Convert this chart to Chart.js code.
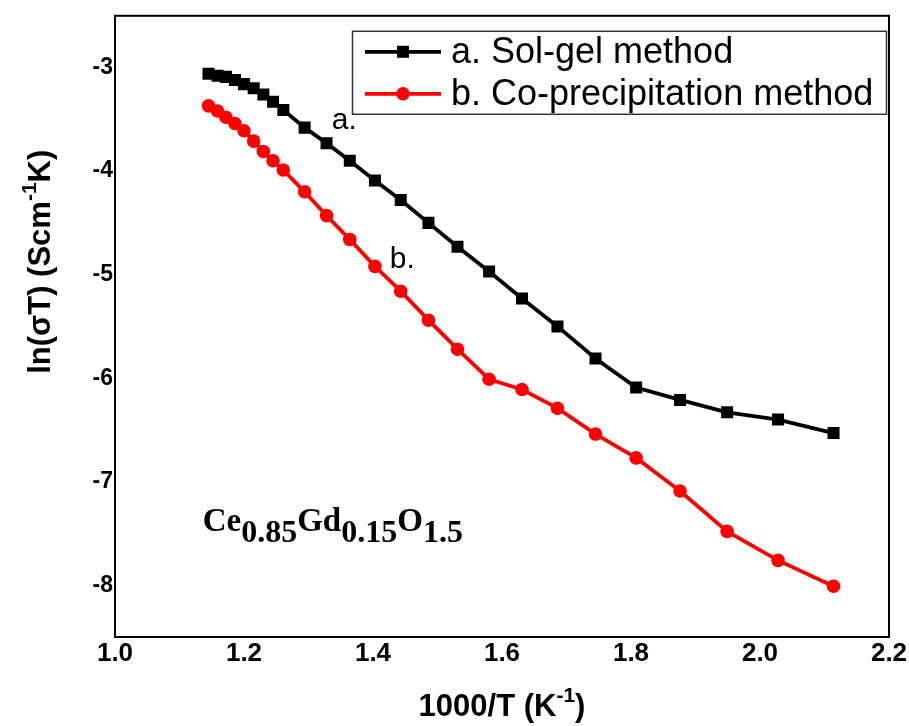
<!DOCTYPE html>
<html><head><meta charset="utf-8">
<script src="https://cdn.jsdelivr.net/npm/chart.js@4/dist/chart.umd.min.js"></script>
<style>html,body{margin:0;padding:0;background:#fff;}#wrap{width:909px;height:726px;}</style>
</head><body><div id="wrap"><canvas id="c" width="909" height="726"></canvas></div>
<script>
// 1000/T (K^-1)
const invT = [1.145, 1.159, 1.172, 1.186, 1.200, 1.215, 1.230, 1.245, 1.261, 1.294, 1.328, 1.364, 1.403, 1.443, 1.486, 1.531, 1.580, 1.631, 1.686, 1.745, 1.808, 1.876, 1.949, 2.028, 2.114];
// ln(sigma T), a. Sol-gel method
const solGel = [-3.06, -3.08, -3.09, -3.12, -3.16, -3.20, -3.26, -3.33, -3.41, -3.58, -3.73, -3.90, -4.09, -4.28, -4.50, -4.73, -4.97, -5.23, -5.50, -5.81, -6.09, -6.21, -6.33, -6.40, -6.53];
// ln(sigma T), b. Co-precipitation method
const coPrecip = [-3.37, -3.42, -3.48, -3.54, -3.61, -3.71, -3.81, -3.90, -3.99, -4.20, -4.43, -4.66, -4.92, -5.16, -5.44, -5.72, -6.01, -6.11, -6.29, -6.54, -6.77, -7.09, -7.48, -7.76, -8.01];
const seriesNames = ['a. Sol-gel method', 'b. Co-precipitation method'];
const xTicks = [1.0, 1.2, 1.4, 1.6, 1.8, 2.0, 2.2];
const yTicks = [-8, -7, -6, -5, -4, -3];

const SANS = '"Liberation Sans", Arial, Helvetica, sans-serif';
const NARROW = '"Liberation Sans Narrow", "Arial Narrow", "Liberation Sans", Arial, sans-serif';
const SERIF = '"Liberation Serif", "Times New Roman", serif';

function drawRich(ctx, parts, x, y, align) {
  let w = 0;
  for (const p of parts) { ctx.font = p.font; w += ctx.measureText(p.text).width; }
  let cx = align === 'center' ? x - w / 2 : x;
  for (const p of parts) {
    ctx.font = p.font;
    ctx.fillText(p.text, cx, y + (p.dy || 0));
    cx += ctx.measureText(p.text).width;
  }
}

const deco = {
  id: 'deco',
  afterDraw(chart) {
    const { ctx, chartArea: ca, scales } = chart;
    const sx = scales.x, sy = scales.y;
    ctx.save();
    // frame
    ctx.strokeStyle = '#000'; ctx.lineWidth = 2;
    ctx.strokeRect(ca.left, ca.top, ca.right - ca.left, ca.bottom - ca.top);

    // legend
    const lx = ca.left + 237, ly = ca.top + 15, lw = 534, lh = 83;
    ctx.strokeStyle = '#333'; ctx.lineWidth = 1.5;
    ctx.strokeRect(lx + 0.5, ly + 0.5, lw, lh);
    const rows = [ly + 21, ly + 63];
    chart.data.datasets.forEach((ds, i) => {
      const yy = rows[i];
      ctx.strokeStyle = ds.borderColor; ctx.lineWidth = ds.borderWidth;
      ctx.beginPath(); ctx.moveTo(lx + 13, yy); ctx.lineTo(lx + 89, yy); ctx.stroke();
      ctx.fillStyle = ds.backgroundColor;
      if (ds.pointStyle === 'rect') {
        const s = ds.pointRadius * Math.SQRT1_2;
        ctx.fillRect(lx + 51 - s, yy - s, 2 * s, 2 * s);
      } else {
        ctx.beginPath(); ctx.arc(lx + 51, yy, ds.pointRadius, 0, Math.PI * 2); ctx.fill();
      }
      ctx.fillStyle = '#000';
      ctx.font = '36px ' + SANS;
      ctx.textBaseline = 'middle';
      ctx.textAlign = 'left';
      ctx.fillText(ds.label, lx + 99, yy + 1);
    });

    // curve annotations
    ctx.textBaseline = 'alphabetic';
    ctx.font = '30px ' + SANS;
    ctx.fillText('a.', sx.getPixelForValue(1.336), sy.getPixelForValue(-3.595));
    ctx.fillText('b.', sx.getPixelForValue(1.426), sy.getPixelForValue(-4.94));

    // composition
    const fm = 'bold 33px ' + SERIF, fs = 'bold 32px ' + SERIF;
    drawRich(ctx, [
      { text: 'Ce', font: fm }, { text: '0.85', font: fs, dy: 11 },
      { text: 'Gd', font: fm }, { text: '0.15', font: fs, dy: 11 },
      { text: 'O', font: fm }, { text: '1.5', font: fs, dy: 11 }
    ], sx.getPixelForValue(1.136), sy.getPixelForValue(-7.48), 'left');

    // axis titles
    const tb = 'bold 31px ' + SANS, ts = 'bold 21px ' + SANS;
    ctx.textBaseline = 'alphabetic';
    drawRich(ctx, [
      { text: '1000/T (K', font: tb }, { text: '-1', font: ts, dy: -14 }, { text: ')', font: tb }
    ], (ca.left + ca.right) / 2, 716, 'center');

    ctx.translate(50, ca.top + 246);
    ctx.rotate(-Math.PI / 2);
    drawRich(ctx, [
      { text: 'ln(σT) (Scm', font: tb }, { text: '-1', font: ts, dy: -14 }, { text: 'K)', font: tb }
    ], 0, 0, 'center');
    ctx.restore();
  }
};

new Chart(document.getElementById('c'), {
  type: 'scatter',
  data: {
    datasets: [
      {
        label: seriesNames[0],
        data: invT.map((v, i) => ({ x: v, y: solGel[i] })),
        showLine: true, borderColor: '#000000', backgroundColor: '#000000',
        borderWidth: 3.8, pointStyle: 'rect', pointRadius: 8.5, pointBorderWidth: 0,
        pointHoverRadius: 8.5, tension: 0
      },
      {
        label: seriesNames[1],
        data: invT.map((v, i) => ({ x: v, y: coPrecip[i] })),
        showLine: true, borderColor: '#ff0000', backgroundColor: '#ff0000',
        borderWidth: 3.8, pointStyle: 'circle', pointRadius: 6.8, pointBorderWidth: 0,
        pointHoverRadius: 6.8, tension: 0
      }
    ]
  },
  options: {
    responsive: false, animation: false, devicePixelRatio: 1,
    layout: { padding: { top: 13, right: 20, left: 0, bottom: 0 } },
    plugins: { legend: { display: false }, tooltip: { enabled: false } },
    scales: {
      x: {
        type: 'linear', min: 1.0, max: 2.2,
        grid: { display: false, drawTicks: false }, border: { display: false },
        afterBuildTicks: a => { a.ticks = xTicks.map(v => ({ value: v })); },
        afterFit: s => { s.height = 89; },
        ticks: { padding: 1, color: '#000', font: { family: NARROW, size: 26, weight: 'bold' },
                 maxRotation: 0, autoSkip: false, callback: v => Number(v).toFixed(1) }
      },
      y: {
        type: 'linear', min: -8.5, max: -2.5,
        grid: { display: false, drawTicks: false }, border: { display: false },
        afterBuildTicks: a => { a.ticks = yTicks.map(v => ({ value: v })); },
        afterFit: s => { s.width = 115; },
        ticks: { padding: 2, color: '#000', font: { family: SANS, size: 23, weight: 'bold' },
                 autoSkip: false, callback: v => String(v) }
      }
    }
  },
  plugins: [deco]
});
</script>
</body></html>
